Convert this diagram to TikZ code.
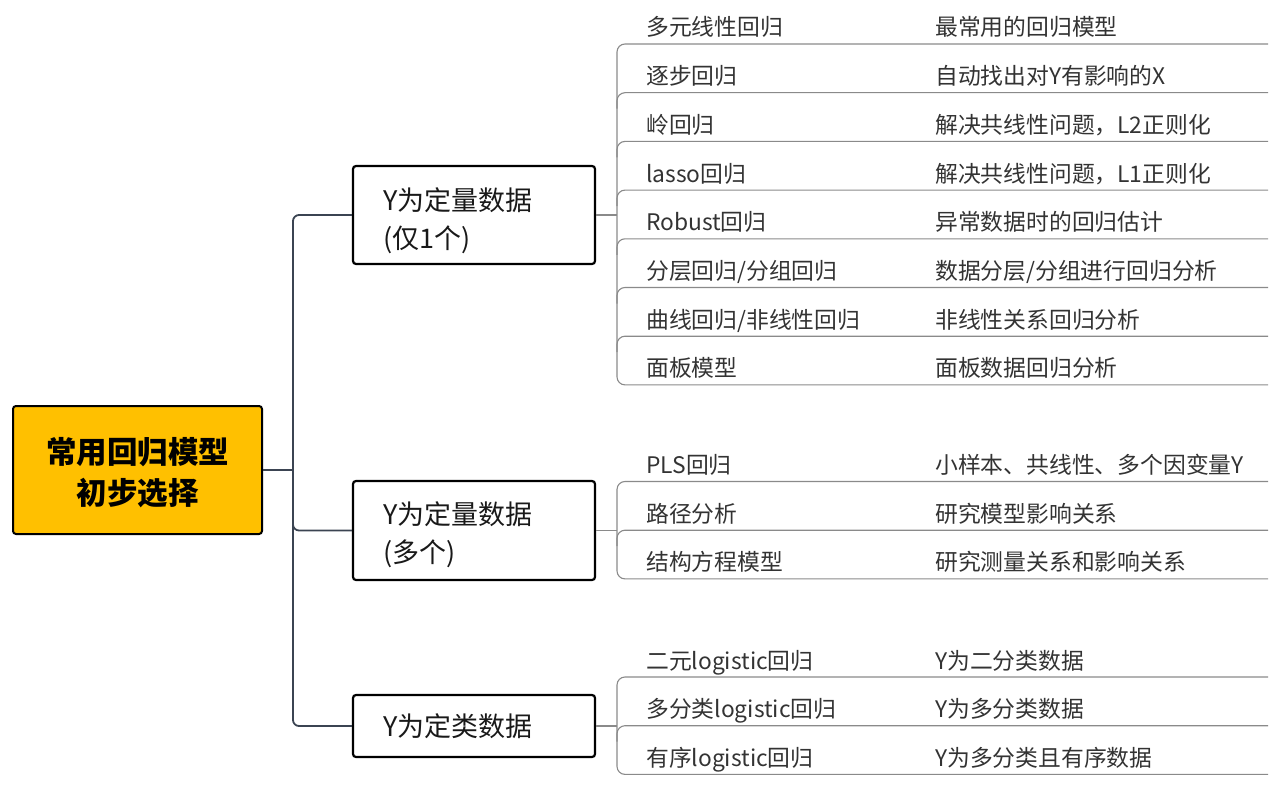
\documentclass[tikz,border=0pt]{standalone}
\usepackage{fontspec}
\setmainfont{Noto Sans CJK SC}
\usetikzlibrary{calc}
\definecolor{topicfill}{HTML}{FFC000}
\definecolor{branchgray}{HTML}{3B4452}
\definecolor{twiggray}{HTML}{8A8A8A}
\definecolor{leaftext}{HTML}{333333}
\tikzstyle{topic}=[draw=black,
                   line width=2pt,
                   fill=topicfill,
                   rounded corners=3pt,
                   minimum width=249pt,
                   minimum height=128pt,
                   align=center,
                   font=\fontsize{30.5}{41}\selectfont\bfseries]
\tikzstyle{question}=[draw=black,
                      line width=2.2pt,
                      rounded corners=3pt,
                      inner xsep=30pt,
                      text width=182pt,
                      align=left,
                      text=black!90,
                      font=\fontsize{27}{38}\selectfont]
\tikzstyle{leaf}=[anchor=base west, inner sep=0pt, text=leaftext,
                  font=\fontsize{22.8}{26}\selectfont]
\tikzstyle{branch}=[draw=branchgray, line width=1.8pt, rounded corners=6pt]
\tikzstyle{twig}=[draw=twiggray, line width=1.1pt, rounded corners=8pt]

\begin{document}
\begin{tikzpicture}[x=1pt,y=-1pt]
    \useasboundingbox (0,0) rectangle (1285,797);
    \node[topic] (choose) at (137.5,470) {\rule{0pt}{32pt}常用回归模型\\初步选择};
    \node[question, minimum height=98pt] (one) at (474,215) {\rule{0pt}{34pt}Y为定量数据\\(仅1个)};
    \node[question, minimum height=99pt] (many) at (474,530.5) {\rule{0pt}{31pt}Y为定量数据\\(多个)};
    \node[question, minimum height=62pt] (categ) at (474,726) {Y为定类数据};
    \coordinate (fork) at (293,470);
    \draw[branch] (choose.east) -- (fork);
    \draw[branch] (fork) |- (one.west);
    \draw[branch] (fork) |- (many.west);
    \draw[branch] (fork) |- (categ.west);
    % Y quantitative, only one
    \foreach \name/\desc [count=\k] in {多元线性回归/最常用的回归模型,
        逐步回归/自动找出对Y有影响的X, 岭回归/{解决共线性问题，L2正则化},
        lasso回归/{解决共线性问题，L1正则化}, Robust回归/异常数据时的回归估计,
        {分层回归/分组回归}/{数据分层/分组进行回归分析},
        {曲线回归/非线性回归}/非线性关系回归分析, 面板模型/面板数据回归分析} {
        \pgfmathsetmacro\y{44+48.7*(\k-1)}
        \coordinate (one-\k) at (617,\y);
        \coordinate (one-\k-end) at (1268,\y);
        \node[leaf] (one-\k-m) at (646,\y-8) {\name};
        \node[leaf] (one-\k-d) at (935,\y-8) {\desc};
    }
    % Y quantitative, several
    \foreach \name/\desc [count=\k] in {PLS回归/小样本、共线性、多个因变量Y,
        路径分析/研究模型影响关系, 结构方程模型/研究测量关系和影响关系} {
        \pgfmathsetmacro\y{481.5+48.7*(\k-1)}
        \coordinate (many-\k) at (617,\y);
        \coordinate (many-\k-end) at (1268,\y);
        \node[leaf] (many-\k-m) at (646,\y-8) {\name};
        \node[leaf] (many-\k-d) at (935,\y-8) {\desc};
    }
    % Y categorical
    \foreach \name/\desc [count=\k] in {二元logistic回归/Y为二分类数据,
        多分类logistic回归/Y为多分类数据, 有序logistic回归/Y为多分类且有序数据} {
        \pgfmathsetmacro\y{677+48.7*(\k-1)}
        \coordinate (categ-\k) at (617,\y);
        \coordinate (categ-\k-end) at (1268,\y);
        \node[leaf] (categ-\k-m) at (646,\y-8) {\name};
        \node[leaf] (categ-\k-d) at (935,\y-8) {\desc};
    }
    \draw[twig] (one.east) -- (one.east -| one-1);
    \draw[twig] (many.east) -- (many.east -| many-1);
    \draw[twig] (categ.east) -- (categ.east -| categ-1);
    \draw[twig] (one-1-end) -- (one-1) -- (one-8) -- (one-8-end);
    \draw[twig] (many-1-end) -- (many-1) -- (many-3) -- (many-3-end);
    \draw[twig] (categ-1-end) -- (categ-1) -- (categ-3) -- (categ-3-end);
    \foreach \k in {2,...,7} \draw[twig] (one-\k-end) -- (one-\k) -- ++(0,16);
    \draw[twig] (many-2-end) -- (many-2) -- ++(0,16);
    \draw[twig] (categ-2-end) -- (categ-2) -- ++(0,16);
\end{tikzpicture}
\end{document}
